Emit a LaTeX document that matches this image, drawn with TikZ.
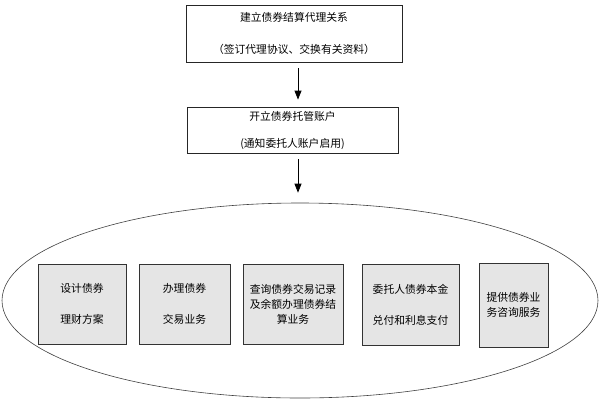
\documentclass[tikz,border=0pt]{standalone}
\usepackage{fontspec}
\setmainfont{Noto Sans CJK SC}
\usetikzlibrary{arrows.meta,shapes.geometric}

\tikzset{
    stagebox/.style={draw=black!85,line width=0.8pt,fill=white,inner sep=0pt,align=center,font=\fontsize{10.8}{13}\selectfont},
    taskbox/.style={draw=black!80,line width=0.8pt,fill=black!10,inner sep=0pt,align=center,font=\fontsize{10.8}{15}\selectfont},
    flow/.style={line width=0.8pt,-{Triangle[width=7pt,length=9pt]}}
}

\begin{document}
\begin{tikzpicture}[x=1pt,y=-1pt]
    \useasboundingbox (0,0) rectangle (600,405);
    \node[stagebox,minimum width=216pt,minimum height=57pt] (rel) at (294,33.5)
        {建立债券结算代理关系\\[19pt]（签订代理协议、交换有关资料）};
    \node[stagebox,minimum width=211pt,minimum height=46pt] (acct) at (292.5,130)
        {开立债券托管账户\\[14pt](通知委托人账户启用)};
    \node[draw=black!75,line width=0.6pt,ellipse,minimum width=596pt,minimum height=195pt] (svc) at (300,300.5) {};
    \node[taskbox,minimum width=88pt,minimum height=80pt] (b1) at (82,304) {设计债券\\[16pt]理财方案};
    \node[taskbox,minimum width=91pt,minimum height=80pt] (b2) at (184.5,304) {办理债券\\[16pt]交易业务};
    \node[taskbox,minimum width=100pt,minimum height=80pt] (b3) at (293,304) {查询债券交易记录\\及余额办理债券结\\算业务};
    \node[taskbox,minimum width=97pt,minimum height=81pt] (b4) at (410.5,304.5) {委托人债券本金\\[16pt]兑付和利息支付};
    \node[taskbox,minimum width=69pt,minimum height=84pt] (b5) at (513.5,305) {提供债券业\\务咨询服务};
    % connectors
    \draw[flow,shorten <=6pt,shorten >=7pt] ([xshift=4pt]rel.south) -- ([xshift=4pt]rel.south |- acct.north);
    \draw[flow,shorten <=6pt,shorten >=10pt] ([xshift=5.5pt]acct.south) -- ([xshift=5.5pt]acct.south |- svc.north);
\end{tikzpicture}
\end{document}
